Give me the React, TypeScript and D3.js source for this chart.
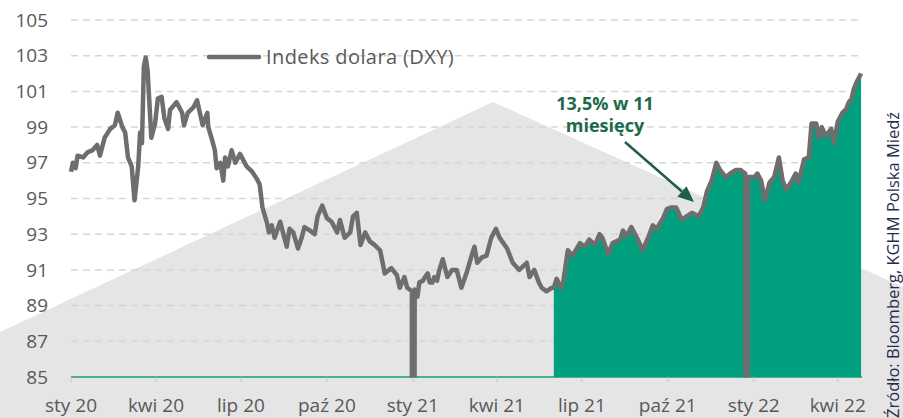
import React from "react";
import * as d3 from "d3";

// ---- data ----
const dates: string[] = [
  "2020-01-01","2020-01-03","2020-01-06","2020-01-08","2020-01-14","2020-01-19","2020-01-24","2020-01-29",
  "2020-02-01","2020-02-06","2020-02-12","2020-02-17","2020-02-20","2020-02-25","2020-02-28",
  "2020-03-02","2020-03-06","2020-03-09","2020-03-13","2020-03-15","2020-03-17","2020-03-19","2020-03-21","2020-03-23","2020-03-27","2020-03-31",
  "2020-04-03","2020-04-07","2020-04-10","2020-04-14","2020-04-16","2020-04-23","2020-04-29",
  "2020-05-01","2020-05-05","2020-05-11","2020-05-15","2020-05-18","2020-05-21","2020-05-26","2020-05-27","2020-05-31",
  "2020-06-03","2020-06-05","2020-06-09","2020-06-12","2020-06-14","2020-06-17","2020-06-21","2020-06-25","2020-06-30",
  "2020-07-07","2020-07-13","2020-07-18","2020-07-21","2020-07-24","2020-07-29","2020-07-31",
  "2020-08-03","2020-08-06","2020-08-12","2020-08-19","2020-08-22","2020-08-26","2020-08-31",
  "2020-09-04","2020-09-07","2020-09-13","2020-09-18","2020-09-21","2020-09-26",
  "2020-10-01","2020-10-06","2020-10-12","2020-10-15","2020-10-20","2020-10-26","2020-10-29",
  "2020-11-02","2020-11-06","2020-11-11","2020-11-16","2020-11-21","2020-11-27",
  "2020-12-02","2020-12-09","2020-12-15","2020-12-18","2020-12-23","2020-12-26","2020-12-31",
  "2021-01-01","2021-01-03","2021-01-06","2021-01-08","2021-01-12","2021-01-14","2021-01-17","2021-01-19","2021-01-22","2021-01-24","2021-01-27","2021-01-29",
  "2021-02-02","2021-02-07","2021-02-12","2021-02-17","2021-02-22","2021-02-28",
  "2021-03-05","2021-03-08","2021-03-11","2021-03-16","2021-03-21","2021-03-26","2021-03-31",
  "2021-04-04","2021-04-08","2021-04-12","2021-04-18","2021-04-25",
  "2021-05-03","2021-05-06","2021-05-11","2021-05-16","2021-05-19","2021-05-24","2021-05-30",
  "2021-06-01","2021-06-04","2021-06-09","2021-06-11","2021-06-16","2021-06-21","2021-06-29",
  "2021-07-04","2021-07-09","2021-07-15","2021-07-20","2021-07-23","2021-07-29",
  "2021-08-03","2021-08-11","2021-08-14","2021-08-18","2021-08-23","2021-08-30",
  "2021-09-04","2021-09-10","2021-09-15","2021-09-19","2021-09-26","2021-09-30",
  "2021-10-05","2021-10-10","2021-10-16","2021-10-21","2021-10-27",
  "2021-11-03","2021-11-08","2021-11-12","2021-11-17","2021-11-22","2021-11-26",
  "2021-12-02","2021-12-07","2021-12-13","2021-12-18","2021-12-23","2021-12-24","2021-12-26",
  "2022-01-02","2022-01-05","2022-01-09","2022-01-13","2022-01-18","2022-01-23","2022-01-28",
  "2022-02-01","2022-02-05","2022-02-11","2022-02-15","2022-02-18","2022-02-24",
  "2022-03-01","2022-03-04","2022-03-09","2022-03-12","2022-03-15","2022-03-19","2022-03-25","2022-03-28",
  "2022-04-01","2022-04-06","2022-04-10","2022-04-13","2022-04-16","2022-04-18","2022-04-21","2022-04-26",
];
const dxy: number[] = [
  96.5,97.0,96.7,97.4,97.3,97.6,97.7,98.0,
  97.4,98.4,98.9,99.1,99.8,99.0,98.7,
  97.3,96.8,94.9,96.8,98.7,98.1,102.4,102.9,102.2,98.4,99.2,
  100.6,100.7,99.5,98.9,99.96,100.4,99.8,
  99.1,99.8,100.1,100.5,99.8,99.1,99.8,99.0,98.3,
  97.7,96.7,97.0,96.0,97.3,96.8,97.7,97.0,97.5,
  96.8,96.5,96.1,95.8,94.5,93.6,93.1,
  93.5,92.8,93.7,92.3,93.3,93.1,92.2,
  92.8,93.4,93.2,93.0,94.0,94.6,
  93.9,93.7,93.1,93.8,92.8,93.1,94.0,
  94.2,92.4,93.1,92.6,92.4,92.1,
  90.8,91.1,90.7,90.0,90.6,90.0,89.8,
  0,89.9,89.5,90.3,90.4,90.6,90.8,90.3,90.3,90.6,90.4,90.9,
  91.6,90.6,91.0,91.0,90.0,90.9,
  91.8,92.3,91.4,91.7,91.8,92.8,93.3,
  92.8,92.5,92.2,91.4,91.0,
  91.4,90.6,91.0,90.3,90.0,89.8,90.0,
  90.0,90.5,90.0,90.3,92.1,91.8,92.5,
  92.3,92.7,92.4,93.0,92.8,91.9,
  92.5,92.7,93.2,92.9,93.4,92.7,
  92.1,92.8,93.5,93.3,93.9,94.4,
  94.5,94.5,93.8,94.0,94.2,
  94.0,94.5,95.4,96.0,97.0,96.6,
  96.2,96.4,96.6,96.6,96.4,0,96.2,
  96.2,96.4,96.0,94.9,95.9,96.2,97.3,
  96.0,95.5,96.0,96.4,95.9,97.2,
  97.3,99.2,99.2,98.4,99.0,98.5,98.9,98.1,
  99.3,99.8,100.0,100.4,100.6,101.1,101.5,102.0,
];
const greenStart = "2021-06-01";
const xTickDates: string[] = [
  "2020-01-01","2020-04-01","2020-07-01","2020-10-01","2021-01-01",
  "2021-04-01","2021-07-01","2021-10-01","2022-01-01","2022-04-01",
];
const xTickLabels: string[] = [
  "sty 20","kwi 20","lip 20","paź 20","sty 21","kwi 21","lip 21","paź 21","sty 22","kwi 22",
];
const yTicks: number[] = [85, 87, 89, 91, 93, 95, 97, 99, 101, 103, 105];
const seriesName = "Indeks dolara (DXY)";
const annotationLines: string[] = ["13,5% w 11", "miesięcy"];
const sourceText = "Źródło: Bloomberg, KGHM Polska Miedź";

const W = 903;
const H = 418;
const FONT = "'Open Sans', sans-serif";
const LINE = "#6e6e6e";
const GREEN = "#00a07f";
const TXT = "#595959";

export default function App() {
  const data = dates.map((d, i) => ({ date: new Date(d), v: dxy[i] }));
  const x = d3
    .scaleUtc()
    .domain([new Date("2020-01-01"), new Date("2022-04-27")])
    .range([71, 862]);
  const y = d3.scaleLinear().domain([85, 105]).range([377, 20]);

  const line = d3
    .line<{ date: Date; v: number }>()
    .x((d) => x(d.date))
    .y((d) => y(d.v));
  const gStart = new Date(greenStart);
  const greenData = data.filter((d) => d.date >= gStart);
  const area = d3
    .area<{ date: Date; v: number }>()
    .x((d) => x(d.date))
    .y0(y(85))
    .y1((d) => y(d.v));

  // arrow
  const ax1 = 625, ay1 = 142, ax2 = 694, ay2 = 202;
  const ang = Math.atan2(ay2 - ay1, ax2 - ax1);
  const hl = 16, hw = 7;
  const bx = ax2 - hl * Math.cos(ang), by = ay2 - hl * Math.sin(ang);
  const head = [
    [ax2, ay2],
    [bx + hw * Math.sin(ang), by - hw * Math.cos(ang)],
    [bx - hw * Math.sin(ang), by + hw * Math.cos(ang)],
  ]
    .map((p) => p.join(","))
    .join(" ");

  return (
    <svg
      width={W}
      height={H}
      style={{ position: "absolute", left: 0, top: 0, background: "#fff" }}
      fontFamily={FONT}
    >
      <defs>
        <clipPath id="plotClip">
          <rect x={60} y={0} width={820} height={377.5} />
        </clipPath>
      </defs>
      <rect x={0} y={0} width={W} height={H} fill="#fff" />
      <polygon points="0,332 493,102 903,287 903,418 0,418" fill="#e5e5e5" />

      {/* gridlines */}
      {yTicks.filter((t) => t !== 85).map((t) => (
        <line
          key={t}
          x1={71}
          x2={862}
          y1={y(t)}
          y2={y(t)}
          stroke="#d6d6d6"
          strokeWidth={1.5}
          strokeDasharray="7 5"
        />
      ))}
      {/* axis baseline */}
      <line x1={71} x2={862} y1={y(85)} y2={y(85)} stroke="#1a9a7c" strokeWidth={1.5} />
      {xTickDates.map((d) => (
        <line
          key={d}
          x1={x(new Date(d))}
          x2={x(new Date(d))}
          y1={y(85) + 0.5}
          y2={y(85) + 5}
          stroke="#cfcfcf"
          strokeWidth={1.5}
        />
      ))}

      {/* y labels */}
      {yTicks.map((t) => (
        <text
          key={t}
          x={48}
          y={y(t)}
          dy="0.35em"
          textAnchor="end"
          fontSize={19}
          fill={TXT}
        >
          {t}
        </text>
      ))}
      {/* x labels */}
      {xTickDates.map((d, i) => (
        <text
          key={d}
          x={x(new Date(d))}
          y={412}
          textAnchor="middle"
          fontSize={19}
          fill={TXT}
        >
          {xTickLabels[i]}
        </text>
      ))}

      <g clipPath="url(#plotClip)">
        <path d={area(greenData) || ""} fill={GREEN} />
        <path
          d={line(data) || ""}
          fill="none"
          stroke={LINE}
          strokeWidth={4.5}
          strokeLinejoin="round"
        />
      </g>

      {/* legend */}
      <line x1={209} x2={259} y1={57} y2={57} stroke={LINE} strokeWidth={4.5} strokeLinecap="round" />
      <text x={266} y={57} dy="0.35em" fontSize={20} letterSpacing={0.4} fill={TXT}>
        {seriesName}
      </text>

      {/* annotation */}
      {annotationLines.map((s, i) => (
        <text
          key={s}
          x={605}
          y={110 + i * 22}
          textAnchor="middle"
          fontSize={18}
          fontWeight="bold"
          fill="#1d6a49"
        >
          {s}
        </text>
      ))}
      <line x1={ax1} y1={ay1} x2={bx} y2={by} stroke="#1d6046" strokeWidth={2.5} />
      <polygon points={head} fill="#1d6046" />

      {/* source */}
      <text
        transform="translate(899,112) rotate(-90)"
        textAnchor="end"
        fontSize={16.5}
        fill="#1f2d50"
      >
        {sourceText}
      </text>
    </svg>
  );
}
